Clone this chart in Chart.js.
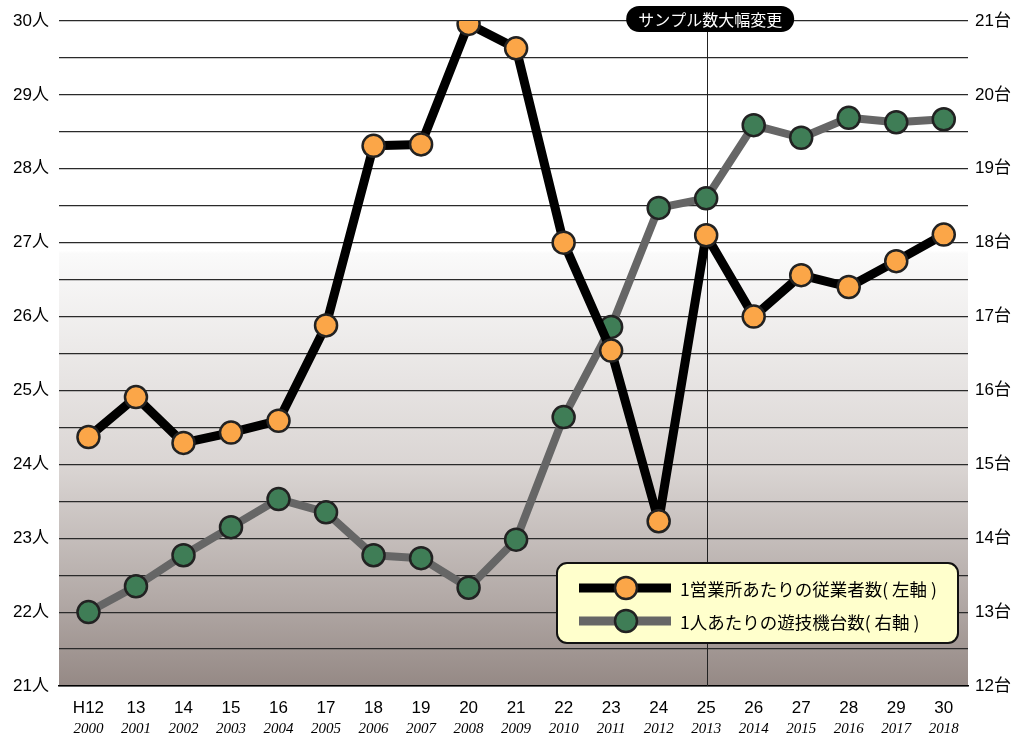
<!DOCTYPE html>
<html>
<head>
<meta charset="utf-8">
<script src="https://cdn.jsdelivr.net/npm/chart.js@4"></script>
<style>
  body { margin: 0; background: #fff; }
  #wrap { width: 1020px; height: 738px; }
</style>
</head>
<body>
<div id="wrap"><canvas id="lineChart" width="1020" height="738"></canvas></div>
<script>
// data
const periods = ['H12','13','14','15','16','17','18','19','20','21','22','23','24','25','26','27','28','29','30'];
const years = ['2000','2001','2002','2003','2004','2005','2006','2007','2008','2009','2010','2011','2012','2013','2014','2015','2016','2017','2018'];
const staffPerOffice = [24.37,24.91,24.29,24.43,24.59,25.88,28.31,28.33,29.96,29.63,27.00,25.54,23.23,27.10,26.00,26.56,26.40,26.75,27.11];
const machinesPerPerson = [13.00,13.35,13.77,14.15,14.53,14.35,13.77,13.73,13.33,13.98,15.64,16.86,18.47,18.60,19.59,19.42,19.69,19.63,19.67];
const changeIndex = 13; // H25
const changeLabel = 'サンプル数大幅変更';
const legendLabels = ['1営業所あたりの従業者数( 左軸 )', '1人あたりの遊技機台数( 右軸 )'];

const sansFont = "'Liberation Sans', 'Noto Sans CJK JP', sans-serif";
const cjkFont = "'Noto Sans CJK JP', sans-serif";
const orange = '#fba648';
const green = '#3f7d56';

const xTicks = scale => { scale.ticks = periods.map((p, i) => ({value: i})); };

//background gradient
const bgPlugin = {
    id: 'bg',
    beforeDraw(chart){
        const {ctx, chartArea: a} = chart;
        const g = ctx.createLinearGradient(0, a.top, 0, a.bottom);
        g.addColorStop(0, '#ffffff');
        g.addColorStop(0.345, '#ffffff');
        g.addColorStop(0.35, '#fafafa');
        g.addColorStop(0.67, '#dad5d3');
        g.addColorStop(0.87, '#b2a9a6');
        g.addColorStop(1, '#958985');
        ctx.save();
        ctx.fillStyle = g;
        ctx.fillRect(a.left, a.top, a.right - a.left, a.bottom - a.top);
        ctx.restore();
    }
};

// vertical marker, label pill and legend box
const markerPlugin = {
    id: 'marker',
    beforeDatasetsDraw(chart){
        const {ctx, chartArea: a} = chart;
        const x = Math.round(chart.scales.x.getPixelForValue(changeIndex)) + 1.5;
        ctx.save();
        ctx.strokeStyle = '#222';
        ctx.lineWidth = 1;
        ctx.beginPath();
        ctx.moveTo(x, a.top);
        ctx.lineTo(x, a.bottom);
        ctx.stroke();
        ctx.restore();
    },
    afterDraw(chart){
        const {ctx} = chart;
        const x = chart.scales.x.getPixelForValue(changeIndex) + 4;
        ctx.save();
        // pill
        ctx.fillStyle = '#000';
        ctx.beginPath();
        ctx.roundRect(x - 84, 6, 168, 26, 13);
        ctx.fill();
        ctx.fillStyle = '#fff';
        ctx.font = '16px ' + cjkFont;
        ctx.textAlign = 'center';
        ctx.textBaseline = 'middle';
        ctx.fillText(changeLabel, x, 19.5);

        // legend
        ctx.fillStyle = '#ffffcc';
        ctx.strokeStyle = '#111';
        ctx.lineWidth = 2;
        ctx.beginPath();
        ctx.roundRect(557, 563, 401, 80, 10);
        ctx.fill();
        ctx.stroke();
        const rows = [
            {y: 588, line: '#000', fill: orange, text: legendLabels[0]},
            {y: 621, line: '#666', fill: green, text: legendLabels[1]}
        ];
        rows.forEach(r => {
            ctx.strokeStyle = r.line;
            ctx.lineWidth = 9;
            ctx.beginPath();
            ctx.moveTo(579, r.y);
            ctx.lineTo(671, r.y);
            ctx.stroke();
            ctx.beginPath();
            ctx.arc(626, r.y, 11, 0, Math.PI * 2);
            ctx.fillStyle = r.fill;
            ctx.fill();
            ctx.strokeStyle = '#222';
            ctx.lineWidth = 2.5;
            ctx.stroke();
            ctx.fillStyle = '#000';
            ctx.font = '17.5px ' + cjkFont;
            ctx.textAlign = 'left';
            ctx.textBaseline = 'middle';
            ctx.fillText(r.text, 680, r.y + 1);
        });
        ctx.restore();
    }
};

const ctx = document.getElementById('lineChart').getContext('2d');
const lineChart = new Chart(ctx, {
    type: 'line',
    data: {
        datasets: [{
            label: legendLabels[0],
            data: staffPerOffice.map((v, i) => ({x: i, y: v})),
            yAxisID: 'y',
            borderColor: '#000',
            borderWidth: 9,
            borderJoinStyle: 'round',
            pointRadius: 11,
            pointBackgroundColor: orange,
            pointBorderColor: '#222',
            pointBorderWidth: 2.5,
            tension: 0
        },{
            label: legendLabels[1],
            data: machinesPerPerson.map((v, i) => ({x: i, y: v})),
            yAxisID: 'y1',
            borderColor: '#666',
            borderWidth: 8,
            borderJoinStyle: 'round',
            pointRadius: 11,
            pointBackgroundColor: green,
            pointBorderColor: '#222',
            pointBorderWidth: 2.5,
            tension: 0
        }]
    },
    options: {
        responsive: false,
        animation: false,
        events: [],
        layout: { padding: {top: 21, left: 0, right: 0, bottom: 0} },
        scales: {
            x: {
                type: 'linear',
                position: 'bottom',
                min: -0.62,
                max: 18.51,
                afterBuildTicks: xTicks,
                afterFit(scale){ scale.height = 34; },
                grid: { display: false, drawTicks: false },
                border: { display: true, color: '#000', width: 1.5 },
                ticks: {
                    color: '#000',
                    padding: 12,
                    autoSkip: false,
                    maxRotation: 0,
                    font: { family: sansFont, size: 17 },
                    callback: v => periods[v]
                }
            },
            x2: {
                type: 'linear',
                position: 'bottom',
                min: -0.62,
                max: 18.51,
                afterBuildTicks: xTicks,
                afterFit(scale){ scale.height = 18; },
                grid: { display: false, drawTicks: false },
                border: { display: false },
                ticks: {
                    color: '#000',
                    padding: 0,
                    autoSkip: false,
                    maxRotation: 0,
                    font: { family: "'Liberation Serif', serif", size: 15, style: 'italic' },
                    callback: v => years[v]
                }
            },
            y: {
                position: 'left',
                min: 21,
                max: 30,
                afterFit(scale){ scale.width = 59; },
                grid: { color: '#2a2a2a', lineWidth: 1.2, drawTicks: false },
                border: { display: false },
                ticks: {
                    stepSize: 0.5,
                    padding: 10,
                    color: '#000',
                    font: { family: sansFont, size: 17 },
                    callback: v => Number.isInteger(v) ? v + '人' : ''
                }
            },
            y1: {
                position: 'right',
                min: 12,
                max: 21,
                afterFit(scale){ scale.width = 52; },
                grid: { display: false, drawTicks: false },
                border: { display: false },
                ticks: {
                    stepSize: 1,
                    padding: 7,
                    color: '#000',
                    font: { family: sansFont, size: 17 },
                    callback: v => v + '台'
                }
            }
        },
        plugins: {
            legend: { display: false },
            tooltip: { enabled: false }
        }
    },
    plugins: [bgPlugin, markerPlugin]
});
</script>
</body>
</html>
